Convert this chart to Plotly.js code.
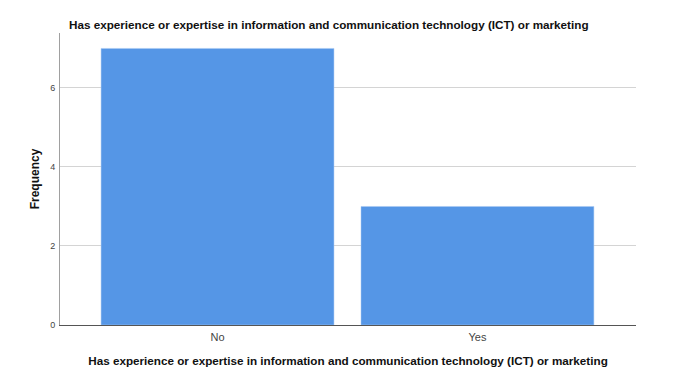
<!DOCTYPE html>
<html><head><meta charset="utf-8">
<script src="https://cdn.plot.ly/plotly-3.0.1.min.js"></script>
<style>html,body{margin:0;padding:0;background:#fff}#chart{width:682px;height:379px}</style>
</head><body><div id="chart"></div>
<script>
const categories = ["No", "Yes"];
const frequencies = [7, 3];
const yTicks = [0, 2, 4, 6];
const titleText = "Has experience or expertise in information and communication technology (ICT) or marketing";

const trace = {
  type: "bar",
  x: categories,
  y: frequencies,
  width: 0.896,
  marker: {color: "#5596e6", line: {color: "#a9c9f2", width: 0.5}},
  hoverinfo: "x+y"
};

const layout = {
  width: 682, height: 379,
  margin: {l: 60, r: 46, t: 33, b: 54},
  paper_bgcolor: "#fff", plot_bgcolor: "#fff",
  font: {family: "Liberation Sans, Arial, sans-serif", color: "#222"},
  showlegend: false,
  title: {
    text: titleText,
    font: {size: 11.7, color: "#111", weight: "bold"},
    xref: "paper", x: 0.0156, xanchor: "left",
    yref: "container", y: 1 - 25/379, yanchor: "middle"
  },
  xaxis: {
    type: "category",
    range: [-0.606, 1.61],
    showgrid: false,
    showline: true, linecolor: "#555", linewidth: 1,
    ticks: "", tickfont: {size: 11, color: "#444"},
    ticklabelstandoff: 2,
    title: {text: titleText, font: {size: 11.7, color: "#111", weight: "bold"}, standoff: 14},
    zeroline: false, fixedrange: true
  },
  yaxis: {
    range: [0, 7.39],
    tickvals: yTicks,
    ticktext: yTicks.map(String),
    showgrid: true, gridcolor: "#d4d4d4", gridwidth: 1,
    showline: true, linecolor: "#a0a0a0", linewidth: 1,
    ticks: "", tickfont: {size: 9, color: "#444"},
    ticklabelstandoff: 2,
    title: {text: "Frequency", font: {size: 12, color: "#111", weight: "bold"}, standoff: 7},
    zeroline: false, fixedrange: true
  },
  bargap: 0.1
};

Plotly.newPlot("chart", [trace], layout, {displayModeBar: false, staticPlot: true});
</script></body></html>
